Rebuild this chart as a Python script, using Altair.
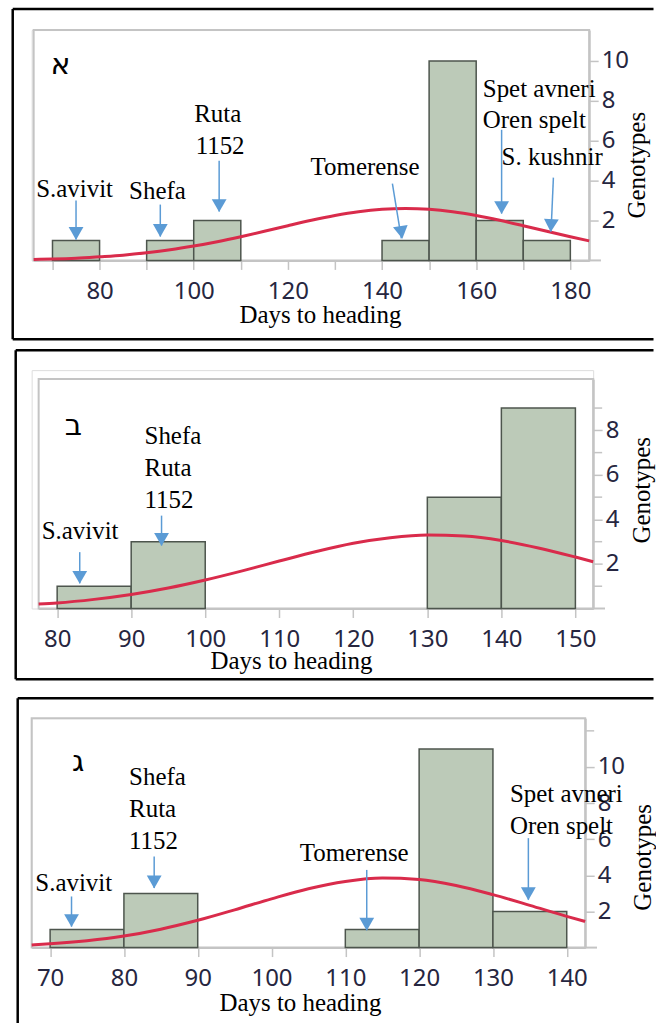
import altair as alt
import pandas as pd

# ---------------- data ----------------
BIN_WIDTH = 10

# panel א
P1_BIN_START = [70, 90, 100, 140, 150, 160, 170]
P1_COUNT = [1, 1, 2, 1, 10, 2, 1]
P1_CURVE_X = [66, 70, 75, 80, 85, 90, 95, 100, 105, 110, 115, 120, 125, 130,
              135, 140, 145, 150, 155, 160, 165, 170, 175, 180, 184]
P1_CURVE_Y = [0.05, 0.07, 0.11, 0.18, 0.26, 0.38, 0.53, 0.72, 0.94, 1.19, 1.46,
              1.74, 2.01, 2.25, 2.44, 2.56, 2.6, 2.56, 2.44, 2.25, 2.01, 1.74,
              1.46, 1.19, 0.98]
P1_LABELS_C = ["S.avivit", "Shefa", "Ruta", "1152", "Tomerense"]
P1_LABELS_C_X = [74.7, 92.3, 105.1, 105.6, 136.4]
P1_LABELS_C_Y = [3.6, 3.5, 7.35, 5.75, 4.7]
P1_LABELS_L = ["Spet avneri", "Oren spelt", "S. kushnir"]
P1_LABELS_L_X = [161.4, 161.4, 165.4]
P1_LABELS_L_Y = [8.6, 7.05, 5.2]
P1_ARROW_X = [75, 92.9, 105.4, 142.2, 165.4, 176.4]
P1_ARROW_Y = [3.0, 2.8, 5.0, 3.85, 6.55, 4.15]
P1_ARROW_X2 = [75, 92.9, 105.4, 144.1, 165.4, 175.9]
P1_ARROW_Y2 = [1.05, 1.2, 2.45, 1.1, 2.35, 1.45]
P1_ARROW_ANGLE = [0, 0, 0, 351, 0, 3]
P1_Y_TICKS = [2, 4, 6, 8, 10]
P1_Y_MINOR = []

# panel ב
P2_BIN_START = [80, 90, 130, 140]
P2_COUNT = [1, 3, 5, 9]
P2_CURVE_X = [77.5, 80, 85, 90, 95, 100, 105, 110, 115, 120, 125, 130, 135,
              140, 145, 150, 152.4]
P2_CURVE_Y = [0.2, 0.25, 0.41, 0.63, 0.92, 1.28, 1.69, 2.13, 2.56, 2.93, 3.18,
              3.3, 3.25, 3.05, 2.72, 2.31, 2.1]
P2_LABELS_C = ["S.avivit"]
P2_LABELS_C_X = [83.1]
P2_LABELS_C_Y = [3.5]
P2_LABELS_L = ["Shefa", "Ruta", "1152"]
P2_LABELS_L_X = [91.8, 91.8, 91.8]
P2_LABELS_L_Y = [7.74, 6.33, 4.87]
P2_ARROW_X = [83.05, 94.1]
P2_ARROW_Y = [2.53, 4.17]
P2_ARROW_X2 = [83.05, 94.1]
P2_ARROW_Y2 = [1.13, 2.83]
P2_ARROW_ANGLE = [0, 0]
P2_Y_TICKS = [2, 4, 6, 8]
P2_Y_MINOR = [1, 3, 5, 7, 9]

# panel ג
P3_BIN_START = [70, 80, 110, 120, 130]
P3_COUNT = [1, 3, 1, 11, 2]
P3_CURVE_X = [67.5, 70, 75, 80, 85, 90, 95, 100, 105, 110, 115, 120, 125, 130,
              135, 140, 142.5]
P3_CURVE_Y = [0.15, 0.21, 0.38, 0.64, 1.02, 1.51, 2.09, 2.7, 3.26, 3.66, 3.85,
              3.77, 3.44, 2.93, 2.34, 1.73, 1.45]
P3_LABELS_C = ["S.avivit", "Tomerense"]
P3_LABELS_C_X = [73.2, 111.2]
P3_LABELS_C_Y = [3.57, 5.23]
P3_LABELS_L = ["Shefa", "Ruta", "1152", "Spet avneri", "Oren spelt"]
P3_LABELS_L_X = [80.7, 80.7, 80.7, 132.3, 132.3]
P3_LABELS_L_Y = [9.43, 7.68, 5.91, 8.5, 6.74]
P3_ARROW_X = [72.9, 84.1, 112.9, 134.8]
P3_ARROW_Y = [2.83, 5.04, 4.3, 6.06]
P3_ARROW_X2 = [72.9, 84.1, 112.9, 134.8]
P3_ARROW_Y2 = [1.16, 3.3, 0.96, 2.65]
P3_ARROW_ANGLE = [0, 0, 0, 0]
P3_Y_TICKS = [2, 4, 6, 8, 10]
P3_Y_MINOR = [12]

PANEL_LETTERS = ["א", "ב", "ג"]
LETTER_X = [71.7, 82.2, 73.8]
LETTER_Y = [9.8, 8.19, 10.28]

# ---------------- styles ----------------
GRAY = "#c4c4c4"
BAR_FILL = "#bccab8"
BAR_EDGE = "#4d554d"
RED = "#d92b4b"
BLUE = "#5b9bd5"
LABEL_COLOR = "#262640"
SERIF = "Liberation Serif, Times New Roman, DejaVu Serif, serif"
SANS = "Noto Sans, Liberation Sans, sans-serif"


def panel(i, bin_start, count, cx, cy, lc, lcx, lcy, ll, llx, lly,
          ax, ay, ax2, ay2, aang, yticks, yminor, geo):
    bars = pd.DataFrame({"start": bin_start, "count": count})
    bars["end"] = bars["start"] + BIN_WIDTH
    curve = pd.DataFrame({"x": cx, "y": cy})
    lab_c = pd.DataFrame({"t": lc, "x": lcx, "y": lcy})
    lab_l = pd.DataFrame({"t": ll, "x": llx, "y": lly})
    arrows = pd.DataFrame({"x": ax, "y": ay, "x2": ax2, "y2": ay2, "ang": aang})
    letter = pd.DataFrame({"t": [PANEL_LETTERS[i]], "x": [LETTER_X[i]], "y": [LETTER_Y[i]]})

    xs = alt.Scale(domain=geo["xdom"], range=geo["xrange"], nice=False, zero=False)
    ys = alt.Scale(domain=geo["ydom"], range=geo["yrange"], nice=False, zero=False)

    x_axis = alt.Axis(
        values=geo["xticks"], labelExpr=geo["xlabexpr"], title="Days to heading",
        grid=False, domainColor=GRAY, domainWidth=2, tickColor=GRAY, tickWidth=1.5,
        tickSize=9, labelFont=SANS, labelFontSize=24, labelColor=LABEL_COLOR,
        labelPadding=10, labelOverlap=False, labelFlush=False,
        titleFont=SERIF, titleFontSize=25, titleFontWeight="normal", titleColor="black",
        titleX=geo["xtitle"][0], titleY=geo["xtitle"][1], titleAlign="center",
        titleBaseline="middle")
    y_axis = alt.Axis(
        orient="right", values=yticks, title="Genotypes",
        grid=False, domainColor=GRAY, domainWidth=2, tickColor=GRAY, tickWidth=1.5,
        tickSize=9, labelFont=SANS, labelFontSize=24, labelColor=LABEL_COLOR,
        labelPadding=3, labelAlign="left", labelBaseline="middle", labelOverlap=False,
        labelFlush=False, titleFont=SERIF, titleFontSize=25, titleFontWeight="normal",
        titleColor="black", titleAngle=270, titleX=geo["ytitle"][0],
        titleY=geo["ytitle"][1], titleAlign="center", titleBaseline="middle")

    one = alt.Data(values=[{}])
    x0, x1 = geo["xdom"]
    y0, y1 = geo["ydom"]

    frame = alt.Chart(one).mark_rect(fillOpacity=0, stroke=GRAY, strokeWidth=2).encode(
        x=alt.X(datum=x0, scale=xs, axis=x_axis), x2=alt.datum(x1),
        y=alt.Y(datum=y0, scale=ys, axis=y_axis), y2=alt.datum(y1))
    ext = alt.Chart(one).mark_rule(color=GRAY, strokeWidth=2).encode(
        x=alt.X(datum=x1, scale=xs), x2=alt.datum(geo["xext"]),
        y=alt.Y(datum=0, scale=ys))

    bar_layer = alt.Chart(bars).mark_rect(
        fill=BAR_FILL, stroke=BAR_EDGE, strokeWidth=1.5).encode(
        x=alt.X("start:Q", scale=xs), x2="end:Q",
        y=alt.Y("count:Q", scale=ys), y2=alt.datum(0))

    curve_layer = alt.Chart(curve).mark_line(
        color=RED, strokeWidth=3, interpolate="monotone").encode(
        x=alt.X("x:Q", scale=xs), y=alt.Y("y:Q", scale=ys))

    arrow_lines = alt.Chart(arrows).mark_rule(color=BLUE, strokeWidth=1.5).encode(
        x=alt.X("x:Q", scale=xs), y=alt.Y("y:Q", scale=ys),
        x2="x2:Q", y2="y2:Q")
    arrow_heads = alt.Chart(arrows).mark_point(
        shape="triangle-down", filled=True, size=220, color=BLUE, opacity=1,
        yOffset=-6).encode(
        x=alt.X("x2:Q", scale=xs), y=alt.Y("y2:Q", scale=ys),
        angle=alt.Angle("ang:Q", scale=None))

    text_c = alt.Chart(lab_c).mark_text(
        font=SERIF, fontSize=25, color="black", align="center", baseline="middle").encode(
        x=alt.X("x:Q", scale=xs), y=alt.Y("y:Q", scale=ys), text="t:N")
    text_l = alt.Chart(lab_l).mark_text(
        font=SERIF, fontSize=25, color="black", align="left", baseline="middle").encode(
        x=alt.X("x:Q", scale=xs), y=alt.Y("y:Q", scale=ys), text="t:N")
    letter_layer = alt.Chart(letter).mark_text(
        font="DejaVu Sans", fontSize=30, color="black",
        align="center", baseline="middle").encode(
        x=alt.X("x:Q", scale=xs), y=alt.Y("y:Q", scale=ys), text="t:N")

    fl, ft, fb, fr = geo["outer"]
    outer_left = alt.Chart(one).mark_rule(color="black", strokeWidth=2.5).encode(
        x=alt.value(fl), y=alt.value(ft), y2=alt.value(fb))
    outer_top = alt.Chart(one).mark_rule(color="black", strokeWidth=2.5).encode(
        x=alt.value(fl), x2=alt.value(fr), y=alt.value(ft))
    layers = [frame, ext, bar_layer, curve_layer, arrow_lines, arrow_heads,
              text_c, text_l, letter_layer, outer_left, outer_top]
    if yminor:
        minor = alt.Chart(pd.DataFrame({"v": yminor})).mark_rule(
            color=GRAY, strokeWidth=1.5).encode(
            x=alt.value(geo["w"]), x2=alt.value(geo["w"] + 9),
            y=alt.Y("v:Q", scale=ys))
        layers.append(minor)
    if geo["outer_bottom"]:
        outer_bottom = alt.Chart(one).mark_rule(color="black", strokeWidth=2.5).encode(
            x=alt.value(fl), x2=alt.value(fr), y=alt.value(fb))
        layers.append(outer_bottom)

    return alt.layer(*layers).properties(width=geo["w"], height=geo["h"])


G1 = dict(w=559, h=231, xdom=[66, 184], xrange=[2, 559], ydom=[0, 11.55], yrange=[231, 0],
          xticks=list(range(70, 181, 10)),
          xlabexpr="datum.value % 20 == 0 ? datum.label : ''",
          xtitle=(289, 54), ytitle=(47, 135), xext=186.5,
          outer=(-19, -21, 310, 623.5), outer_bottom=True)
G2 = dict(w=563, h=239, xdom=[77.5, 152.4], xrange=[7, 563], ydom=[0, 10.3], yrange=[239, 9],
          xticks=list(range(80, 151, 10)), xlabexpr="datum.label",
          xtitle=(260, 52), ytitle=(48, 120), xext=154,
          outer=(-16, -20, 310, 623.5), outer_bottom=True)
G3 = dict(w=555, h=230, xdom=[67.5, 142.5], xrange=[0, 555], ydom=[0, 12.7], yrange=[230, 0],
          xticks=list(range(70, 141, 10)), xlabexpr="datum.label",
          xtitle=(269, 55), ytitle=(57, 139), xext=144.1,
          outer=(-14, -20, 305.5, 623.5), outer_bottom=False)

p1 = panel(0, P1_BIN_START, P1_COUNT, P1_CURVE_X, P1_CURVE_Y, P1_LABELS_C, P1_LABELS_C_X,
           P1_LABELS_C_Y, P1_LABELS_L, P1_LABELS_L_X, P1_LABELS_L_Y, P1_ARROW_X, P1_ARROW_Y,
           P1_ARROW_X2, P1_ARROW_Y2, P1_ARROW_ANGLE, P1_Y_TICKS, P1_Y_MINOR, G1)
p2 = panel(1, P2_BIN_START, P2_COUNT, P2_CURVE_X, P2_CURVE_Y, P2_LABELS_C, P2_LABELS_C_X,
           P2_LABELS_C_Y, P2_LABELS_L, P2_LABELS_L_X, P2_LABELS_L_Y, P2_ARROW_X, P2_ARROW_Y,
           P2_ARROW_X2, P2_ARROW_Y2, P2_ARROW_ANGLE, P2_Y_TICKS, P2_Y_MINOR, G2)
p3 = panel(2, P3_BIN_START, P3_COUNT, P3_CURVE_X, P3_CURVE_Y, P3_LABELS_C, P3_LABELS_C_X,
           P3_LABELS_C_Y, P3_LABELS_L, P3_LABELS_L_X, P3_LABELS_L_Y, P3_ARROW_X, P3_ARROW_Y,
           P3_ARROW_X2, P3_ARROW_Y2, P3_ARROW_ANGLE, P3_Y_TICKS, P3_Y_MINOR, G3)

chart = alt.vconcat(p1, p2, p3, spacing=110, bounds="flush").properties(
    padding={"left": 10.75, "top": 5.75, "right": 0, "bottom": 0}
).configure_view(strokeWidth=0).configure(background="white")

chart.save("out.html", embed_options={"renderer": "svg", "actions": False})
